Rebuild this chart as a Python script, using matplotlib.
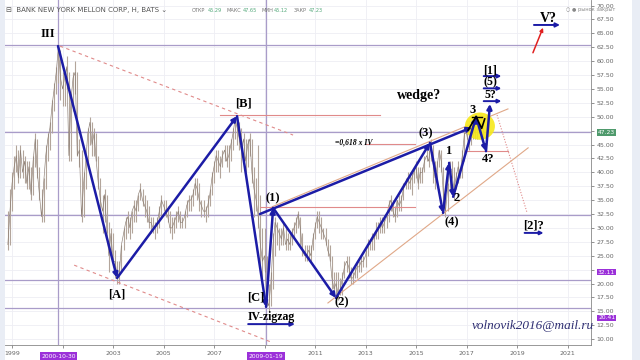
import matplotlib
matplotlib.use("Agg")
import matplotlib.pyplot as plt
from matplotlib.patches import Ellipse, Rectangle
import pandas as pd

# monthly close / high / low, Oct 1998 .. Aug 2017
close = [
    27, 33, 38,
    41, 43, 39, 44, 40, 42, 38, 41, 36, 42, 46, 40,
    36, 32, 38, 43, 46, 48, 52, 55, 58, 62.5, 57, 55,
    57, 59, 43, 53, 57, 58, 43, 44, 32, 38, 42, 47,
    49, 45, 47, 42, 38, 35, 33, 36, 30, 25, 29, 24,
    24, 21, 22, 27, 29, 31, 32, 30, 33, 34, 33, 36,
    37, 35, 34, 33, 31, 31, 30, 30, 31, 33, 35, 34,
    33, 32, 30, 30, 31, 32, 33, 31, 31, 32, 34, 35,
    35, 36, 38, 37, 35, 34, 33, 33, 34, 36, 39, 41,
    43, 42, 41, 43, 44, 42, 43, 45, 47, 49.5, 48, 46,
    44, 46, 42, 45, 46, 40, 37, 35, 32, 27, 24, 25,
    17, 16, 20, 27, 31, 30, 29, 28, 30, 27, 28, 27,
    29, 30, 31, 32.5, 30, 26, 25, 25, 26, 25, 28, 30,
    32, 31, 30, 29, 28, 26, 25, 21, 19, 20, 18, 19,
    21, 23, 24, 23, 21, 21, 22, 23, 23, 24, 24, 25,
    27, 27, 28, 28, 29, 30, 31, 30, 31, 32, 34, 35,
    33, 32, 35, 34, 35, 37, 38, 39, 38, 39, 40, 41,
    38, 40, 40, 42, 43, 42, 45, 42, 39, 41, 44, 42,
    36, 33, 37, 41, 40, 37, 39, 41, 40, 43, 47, 47,
    45, 47, 49, 47, 48, 50, 49, 47.23,
]
high = [
    33, 37, 40,
    43, 45, 44, 45, 44, 43, 42, 42, 41, 43, 47, 46,
    41, 37, 39, 45, 47, 49, 53, 56, 59, 63, 62, 58,
    58, 61, 58, 54, 58, 60, 58, 46, 44, 40, 43, 48,
    50, 49, 48, 47, 43, 39, 36, 37, 36, 31, 30, 29,
    26, 24, 24, 27, 30, 32, 33, 32, 33, 35, 35, 36,
    38, 37, 36, 35, 34, 32, 32, 31, 32, 34, 36, 35,
    35, 34, 33, 32, 32, 33, 34, 33, 32, 33, 35, 36,
    36, 37, 39, 39, 38, 35, 35, 34, 36, 37, 40, 42,
    44, 44, 43, 44, 45, 45, 45, 46, 48, 50, 50, 49,
    48, 47, 46, 46, 47, 46, 41, 39, 45, 36, 30, 30,
    25, 20, 22, 29, 32, 31, 30, 30, 31, 30, 29, 29,
    30, 31, 32, 33, 32, 29, 27, 27, 27, 27, 29, 31,
    33, 33, 32, 30, 30, 28, 27, 25, 22, 22, 22, 21,
    22, 24, 25, 25, 23, 22, 23, 24, 24, 25, 25, 26,
    28, 28, 29, 29, 31, 31, 32, 32, 32, 33, 35, 36,
    35, 34, 35, 36, 36, 38, 39, 40, 40, 40, 41, 42,
    41, 41, 41, 43, 44, 44, 46, 45, 42, 42, 44, 44,
    41, 37, 38, 42, 42, 41, 40, 42, 41, 44, 48, 48,
    48, 48, 50, 49, 49, 50, 50, 49,
]
low = [
    26, 27, 33,
    37, 40, 38, 39, 39, 38, 37, 37, 35, 36, 41, 39,
    35, 31, 31, 37, 42, 44, 47, 51, 54, 56, 53, 52,
    52, 55, 42, 42, 51, 54, 43, 41, 31, 32, 37, 41,
    45, 43, 43, 42, 37, 33, 29, 31, 29, 22, 25, 23,
    21, 20, 20, 22, 26, 28, 29, 28, 29, 31, 31, 33,
    35, 34, 32, 31, 30, 29, 29, 28, 29, 30, 32, 33,
    32, 31, 29, 28, 29, 30, 31, 30, 30, 30, 32, 33,
    33, 34, 36, 35, 33, 32, 32, 31, 32, 34, 36, 38,
    40, 40, 39, 41, 42, 41, 40, 42, 44, 46, 45, 44,
    40, 42, 40, 41, 43, 38, 32, 33, 30, 22, 21, 22,
    16, 15, 16, 19, 25, 27, 26, 27, 27, 26, 26, 26,
    27, 28, 29, 30, 27, 25, 24, 24, 24, 24, 26, 28,
    30, 29, 28, 28, 27, 25, 24, 19, 18, 17, 17, 18,
    18, 21, 22, 21, 20, 20, 21, 21, 22, 22, 23, 23,
    25, 26, 26, 26, 28, 28, 29, 29, 29, 30, 31, 33,
    32, 31, 32, 33, 33, 35, 37, 37, 37, 36, 38, 39,
    37, 38, 38, 40, 42, 41, 42, 38, 37, 38, 41, 40,
    34, 32, 33, 37, 39, 35, 37, 38, 39, 39, 42, 46,
    44, 45, 46, 46, 46, 47, 47, 45,
]
dates = pd.date_range("1998-10-15", periods=len(close), freq="MS")
t_price = [d.year + (d.month - 1) / 12 for d in dates]

# wave count pivots (decimal year, price)
wave_t = [2000.82, 2003.16, 2007.91, 2009.06, 2009.34, 2011.83, 2015.55, 2016.07, 2016.31, 2016.47, 2017.38, 2017.77, 2017.93]
wave_v = [62.7, 21.0, 50.1, 15.8, 33.6, 17.4, 45.3, 32.7, 41.7, 35.6, 50.0, 43.8, 52.3]

wave_labels = [
    ("III", 2000.43, 64.9), ("[A]", 2003.16, 18.1), ("[B]", 2008.15, 52.3),
    ("[C]", 2008.66, 17.4), ("(1)", 2009.34, 35.4), ("(2)", 2012.07, 16.7),
    ("(3)", 2015.40, 47.1), ("(4)", 2016.43, 31.1), ("1", 2016.27, 43.8),
    ("2", 2016.62, 35.4), ("3", 2017.26, 51.2), ("4?", 2017.85, 42.4),
]
target_labels = [("5?", 2017.93, 53.9, 52.8), ("(5)", 2017.93, 56.1, 55.1), ("[1]", 2017.93, 58.3, 57.3)]

year_ticks = [1999, 2001, 2003, 2005, 2007, 2009, 2011, 2013, 2015, 2017, 2019, 2021]
price_ticks = [10 + 2.5 * i for i in range(25)]
hidden_ticks = [22.5, 47.5]

blue = "#1c1ca6"
pink = "#e08a8a"
orange = "#e0a888"
lilac = "#a99cc9"
serif = "Liberation Serif"

fig = plt.figure(figsize=(6.4, 3.6), dpi=100)
fig.patch.set_facecolor("#e9edf5")
fig.patches.append(Rectangle((5 / 640, 0), 627 / 640, 1, transform=fig.transFigure,
                             facecolor="white", edgecolor="none", zorder=-5))
ax = fig.add_axes([5 / 640, 15 / 360, 586 / 640, 345 / 360])
ax.set_zorder(2)
ax.set_xlim(1998.72, 2021.93)
ax.set_ylim(8.94, 70.99)

for s in ["top", "left"]:
    ax.spines[s].set_visible(False)
ax.spines["right"].set_color("#888888")
ax.spines["right"].set_linewidth(0.6)
ax.spines["bottom"].set_color("#888888")
ax.spines["bottom"].set_linewidth(0.6)
ax.yaxis.tick_right()
ax.set_yticks(price_ticks)
ax.set_yticklabels(["" if p in hidden_ticks else "%.2f" % p for p in price_ticks])
ax.set_xticks(year_ticks)
ax.set_xticklabels(["" if y in (2001, 2009) else str(y) for y in year_ticks])
ax.tick_params(axis="both", labelsize=4.5, colors="#666666", length=2, width=0.5, pad=2)
ax.grid(True, color="#eeeef4", lw=0.6)
ax.set_axisbelow(True)

# horizontal / vertical reference lines
for lvl in [62.9, 47.25, 32.3, 20.6, 15.6]:
    ax.axhline(lvl, color=lilac, lw=0.9, zorder=1)
for vx in [2000.83, 2009.05]:
    ax.axvline(vx, color=lilac, lw=0.9, zorder=1)

# price (monthly bars)
ax.vlines(t_price, low, high, color="#b3a59b", lw=0.8, zorder=2)
ax.plot(t_price, close, color="#8c7e74", lw=0.45, zorder=2)

# trend lines
ax.plot([2000.9, 2010.13], [62.7, 46.7], color=pink, lw=0.8, ls=(0, (3, 3)), zorder=2)
ax.plot([2001.46, 2009.3], [23.3, 9.4], color=pink, lw=0.8, ls=(0, (3, 3)), zorder=2)
ax.plot([2018.21, 2019.4], [50.3, 32.7], color=pink, lw=0.8, ls=(0, (1, 1.5)), zorder=2)
ax.plot([2009.3, 2018.64], [33.8, 51.4], color=orange, lw=0.8, zorder=2)
ax.plot([2011.51, 2019.44], [16.5, 44.4], color=orange, lw=0.8, zorder=2)
for x0, x1, lvl in [(2007.24, 2013.57, 50.3), (2008.82, 2014.96, 33.8),
                    (2013.02, 2014.96, 45.1), (2017.02, 2018.64, 43.8)]:
    ax.plot([x0, x1], [lvl, lvl], color=pink, lw=0.8, zorder=2)

ax.add_patch(Ellipse((2017.53, 48.3), 1.19, 4.9, facecolor="#f7e81a", edgecolor="none", alpha=0.9, zorder=3))

def arrow(x0, y0, x1, y1, color=blue, lw=1.8, ms=7):
    ax.annotate("", xy=(x1, y1), xytext=(x0, y0),
                arrowprops=dict(arrowstyle="-|>", color=color, lw=lw, mutation_scale=ms,
                                shrinkA=0, shrinkB=0), zorder=4)

for i in range(len(wave_t) - 1):
    arrow(wave_t[i], wave_v[i], wave_t[i + 1], wave_v[i + 1])
arrow(2008.82, 32.5, 2017.22, 48.1)

# small black sub-wave inside the circle
ax.plot([2017.06, 2017.38, 2017.6, 2017.72], [47.6, 50.0, 47.9, 49.6], color="black", lw=1.2, zorder=4)
ax.plot([2017.2, 2017.6], [50.0, 50.0], color="black", lw=1.0, zorder=4)

for txt, x, y in wave_labels:
    ax.text(x, y, txt, family=serif, weight="bold", fontsize=9, ha="center", va="center", zorder=5)
for txt, x, y, ay in target_labels:
    ax.text(x, y, txt, family=serif, weight="bold", fontsize=8.5, ha="center", va="center", zorder=5)
    arrow(x - 0.25, ay, x + 0.45, ay, lw=1.4, ms=5)

ax.text(2009.26, 14.0, "IV-zigzag", family=serif, weight="bold", fontsize=8.5, ha="center", va="center", zorder=5)
arrow(2008.35, 12.7, 2010.2, 12.7, lw=1.4, ms=6)
ax.text(2015.12, 53.9, "wedge?", family=serif, weight="bold", fontsize=10, ha="center", va="center", zorder=5)
ax.text(2012.55, 45.3, "=0,618 x IV", family=serif, weight="bold", style="italic", fontsize=5.5,
        ha="center", va="center", zorder=5)
ax.text(2019.67, 30.5, "[2]?", family=serif, weight="bold", fontsize=9, ha="center", va="center", zorder=5)
arrow(2019.3, 29.1, 2020.05, 29.1, lw=1.4, ms=5)
ax.text(2020.23, 67.7, "V?", family=serif, weight="bold", fontsize=10, ha="center", va="center", zorder=5)
arrow(2019.67, 66.5, 2020.7, 66.5, lw=1.4, ms=6)
arrow(2019.63, 61.5, 2020.03, 66.0, color="#e02020", lw=1.1, ms=5)
ax.text(2019.63, 12.4, "volnovik2016@mail.ru", family=serif, style="italic", fontsize=9.5,
        color="#2e2e72", ha="center", va="center", zorder=5)

# time-axis date flags
for lbl, vx in [("2000-10-30", 2000.83), ("2009-01-19", 2009.05)]:
    ax.text(vx, -0.025, lbl, transform=ax.get_xaxis_transform(), fontsize=4.3, color="white",
            ha="center", va="top", bbox=dict(boxstyle="square,pad=0.25", fc="#9b30d9", ec="none"))

# price-axis flags
for lbl, lvl, col in [("47.23", 47.23, "#4f9a6c"), ("32.11", 22.06, "#9b30d9"), ("20.41", 13.8, "#9b30d9")]:
    ax.text(1.012, lvl, lbl, transform=ax.get_yaxis_transform(), fontsize=4.3, color="white",
            ha="left", va="center", bbox=dict(boxstyle="square,pad=0.15", fc=col, ec="none"))

# header
fig.text(6 / 640, 1 - 10 / 360, "\u229f  BANK NEW YORK MELLON CORP, H, BATS \u2304", fontsize=5, color="#555555",
         va="center", ha="left")
hdr = [("ОТКР", "#777777"), ("45.29", "#53a87a"), ("МАКС", "#777777"), ("47.65", "#53a87a"),
       ("МИН", "#777777"), ("45.12", "#53a87a"), ("ЗАКР", "#777777"), ("47.23", "#53a87a")]
x = 192
for word, col in hdr:
    fig.text(x / 640, 1 - 10 / 360, word, fontsize=3.6, color=col, va="center", ha="left")
    x += len(word) * 3.2 + 3
fig.text(566 / 640, 1 - 10 / 360, "\u25cb \u25cf рынок закрыт", fontsize=3.6, color="#888888", va="center", ha="left")

fig.savefig("out.png", dpi=100)
